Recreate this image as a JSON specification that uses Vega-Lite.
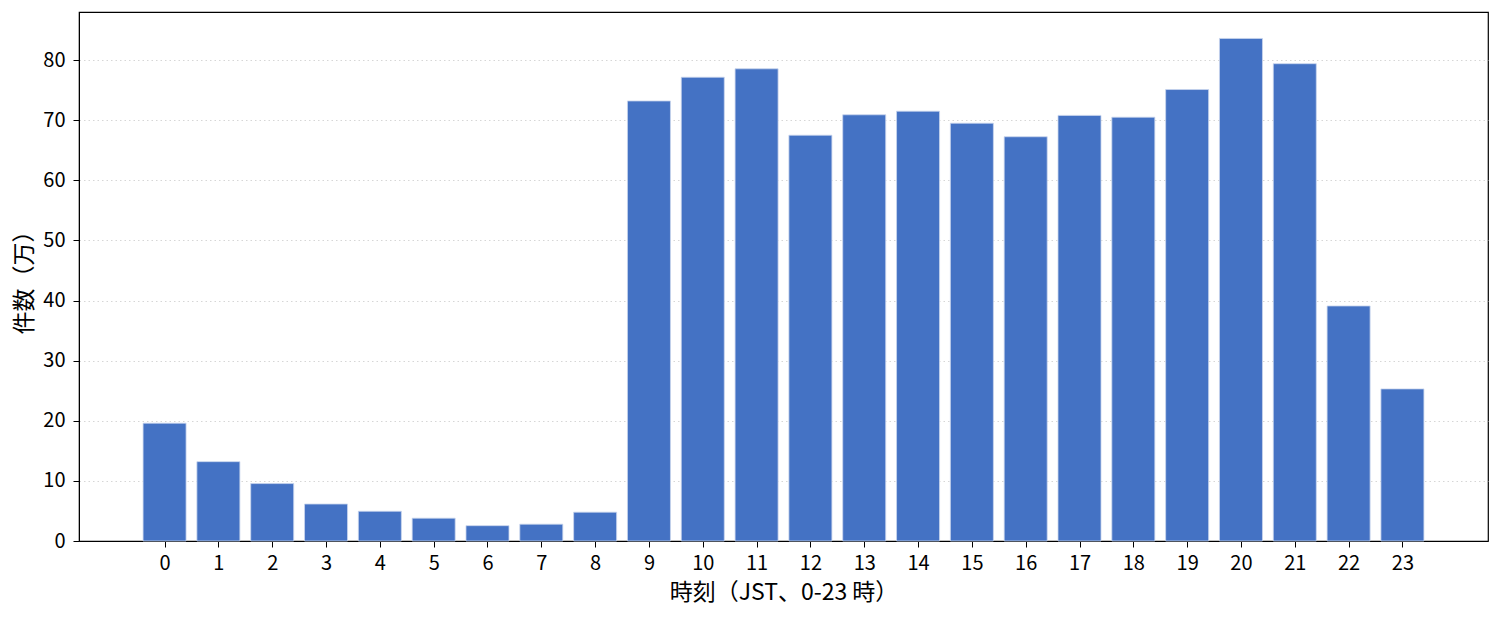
{
  "$schema": "https://vega.github.io/schema/vega-lite/v6.json",
  "width": 1409,
  "height": 529,
  "autosize": "none",
  "padding": {"left": 79, "top": 12, "right": 12, "bottom": 76},
  "background": "white",
  "config": {
    "font": "Noto Sans CJK JP",
    "view": {"stroke": "black", "strokeWidth": 1.2},
    "axis": {"labelFont": "Noto Sans CJK JP", "titleFont": "Noto Sans CJK JP", "labelColor": "black", "titleColor": "black", "titleFontWeight": "normal"}
  },
  "data": {
    "values": [
      {"hour": 0, "count": 19.6},
      {"hour": 1, "count": 13.2},
      {"hour": 2, "count": 9.55},
      {"hour": 3, "count": 6.15},
      {"hour": 4, "count": 4.95},
      {"hour": 5, "count": 3.8},
      {"hour": 6, "count": 2.55},
      {"hour": 7, "count": 2.8},
      {"hour": 8, "count": 4.8},
      {"hour": 9, "count": 73.2},
      {"hour": 10, "count": 77.15},
      {"hour": 11, "count": 78.55},
      {"hour": 12, "count": 67.5},
      {"hour": 13, "count": 70.9},
      {"hour": 14, "count": 71.5},
      {"hour": 15, "count": 69.5},
      {"hour": 16, "count": 67.25},
      {"hour": 17, "count": 70.8},
      {"hour": 18, "count": 70.5},
      {"hour": 19, "count": 75.1},
      {"hour": 20, "count": 83.6},
      {"hour": 21, "count": 79.4},
      {"hour": 22, "count": 39.1},
      {"hour": 23, "count": 25.3}
    ]
  },
  "mark": {"type": "bar", "color": "#4472C4", "stroke": "#c9d6ee", "strokeWidth": 0.8, "width": 43},
  "encoding": {
    "x": {
      "field": "hour",
      "type": "quantitative",
      "scale": {"domain": [-1.59, 24.59], "nice": false, "zero": false, "padding": 0},
      "axis": {
        "title": "時刻（JST、0-23 時）",
        "titleFontSize": 23,
        "titlePadding": 8,
        "labelFontSize": 20,
        "labelAngle": 0,
        "labelPadding": 6,
        "values": [0,1,2,3,4,5,6,7,8,9,10,11,12,13,14,15,16,17,18,19,20,21,22,23],
        "format": "d",
        "labelFlush": false,
        "labelOverlap": false,
        "tickColor": "black",
        "tickSize": 6,
        "domainColor": "black",
        "grid": false
      }
    },
    "y": {
      "field": "count",
      "type": "quantitative",
      "scale": {"domain": [0, 88], "nice": false},
      "axis": {
        "title": "件数（万）",
        "titleFontSize": 23,
        "titlePadding": 6,
        "labelFontSize": 20,
        "labelPadding": 8,
        "values": [0, 10, 20, 30, 40, 50, 60, 70, 80],
        "labelFlush": false,
        "tickColor": "black",
        "tickSize": 6,
        "domainColor": "black",
        "grid": true,
        "gridColor": "#cccccc",
        "gridDash": [1.5, 3],
        "gridWidth": 0.8
      }
    }
  }
}
